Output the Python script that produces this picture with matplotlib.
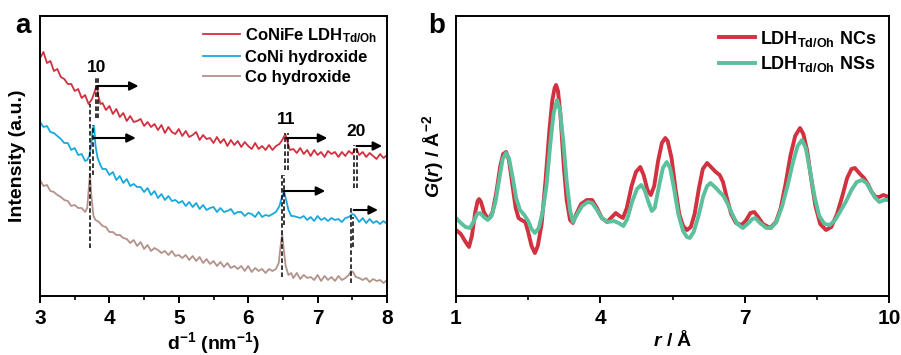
import matplotlib
matplotlib.use("Agg")
import matplotlib.pyplot as plt
from matplotlib.ticker import MultipleLocator, FixedLocator, NullLocator

plt.rcParams["font.family"] = ["Liberation Sans", "DejaVu Sans"]
plt.rcParams["font.weight"] = "bold"
plt.rcParams["mathtext.fontset"] = "custom"
plt.rcParams["mathtext.rm"] = "Liberation Sans:bold"
plt.rcParams["mathtext.bf"] = "Liberation Sans:bold"
plt.rcParams["mathtext.it"] = "Liberation Sans:bold:italic"

# ---------------- panel a: electron diffraction profiles ----------------
red_d = [3.00, 3.05, 3.10, 3.15, 3.20, 3.25, 3.30, 3.35, 3.40, 3.45, 3.50, 3.55, 3.60, 3.65, 3.70,
         3.75, 3.78, 3.80, 3.82, 3.84, 3.87, 3.90, 3.95, 4.00, 4.05, 4.10, 4.15, 4.20, 4.25, 4.30,
         4.35, 4.40, 4.45, 4.50, 4.55, 4.60, 4.65, 4.70, 4.75, 4.80, 4.85, 4.90, 4.95, 5.00, 5.05,
         5.10, 5.15, 5.20, 5.25, 5.30, 5.35, 5.40, 5.45, 5.50, 5.55, 5.60, 5.65, 5.70, 5.75, 5.80,
         5.85, 5.90, 5.95, 6.00, 6.05, 6.10, 6.15, 6.20, 6.25, 6.30, 6.35, 6.40, 6.45, 6.49, 6.52,
         6.54, 6.57, 6.60, 6.65, 6.70, 6.75, 6.80, 6.85, 6.90, 6.95, 7.00, 7.05, 7.10, 7.15, 7.20,
         7.25, 7.30, 7.35, 7.40, 7.45, 7.50, 7.53, 7.56, 7.60, 7.65, 7.70, 7.75, 7.80, 7.85, 7.90,
         7.95, 8.00]
red_i = [238, 244, 233, 235, 225, 227, 219, 217, 212, 212, 205, 207, 198, 201, 192,
         197, 203, 207, 210, 200, 192, 193, 186, 190, 182, 187, 179, 183, 175, 180,
         174, 175, 177, 170, 174, 169, 172, 166, 171, 163, 169, 164, 162, 167, 160,
         165, 159, 161, 164, 156, 161, 157, 158, 153, 159, 153, 157, 150, 156, 151,
         155, 149, 154, 150, 147, 153, 147, 150, 146, 151, 146, 150, 152, 156, 160,
         161, 153, 146, 147, 143, 148, 142, 146, 140, 146, 141, 144, 139, 145, 142,
         144, 139, 144, 140, 145, 142, 146, 147, 141, 144, 139, 143, 140, 137, 142,
         138, 141]

blue_d = [3.00, 3.05, 3.10, 3.15, 3.20, 3.25, 3.30, 3.35, 3.40, 3.45, 3.50, 3.55, 3.60, 3.65, 3.68,
          3.71, 3.74, 3.76, 3.78, 3.80, 3.83, 3.87, 3.90, 3.95, 4.00, 4.05, 4.10, 4.15, 4.20, 4.25,
          4.30, 4.35, 4.40, 4.45, 4.50, 4.55, 4.60, 4.65, 4.70, 4.75, 4.80, 4.85, 4.90, 4.95, 5.00,
          5.05, 5.10, 5.15, 5.20, 5.25, 5.30, 5.35, 5.40, 5.45, 5.50, 5.55, 5.60, 5.65, 5.70, 5.75,
          5.80, 5.85, 5.90, 5.95, 6.00, 6.05, 6.10, 6.15, 6.20, 6.25, 6.30, 6.35, 6.40, 6.45, 6.49,
          6.52, 6.55, 6.58, 6.62, 6.65, 6.70, 6.75, 6.80, 6.85, 6.90, 6.95, 7.00, 7.05, 7.10, 7.15,
          7.20, 7.25, 7.30, 7.35, 7.40, 7.45, 7.50, 7.53, 7.57, 7.60, 7.65, 7.70, 7.75, 7.80, 7.85,
          7.90, 7.95, 8.00]
blue_i = [174, 169, 170, 164, 163, 160, 157, 153, 153, 146, 148, 141, 142, 135, 136,
          140, 152, 168, 170, 150, 138, 131, 127, 127, 121, 124, 116, 120, 113, 117,
          110, 112, 109, 109, 104, 108, 101, 105, 98, 102, 96, 100, 95, 96, 93,
          95, 90, 94, 89, 93, 87, 91, 86, 88, 89, 84, 88, 84, 85, 87,
          82, 84, 84, 80, 83, 82, 79, 84, 79, 81, 80, 82, 84, 90, 100,
          104, 95, 86, 80, 80, 79, 78, 80, 76, 79, 75, 80, 76, 78, 75,
          78, 76, 77, 74, 78, 79, 82, 81, 77, 74, 78, 73, 77, 73, 75,
          72, 75, 72]

brown_d = [3.00, 3.05, 3.10, 3.15, 3.20, 3.25, 3.30, 3.35, 3.40, 3.45, 3.50, 3.55, 3.60, 3.65, 3.68,
           3.70, 3.72, 3.74, 3.77, 3.80, 3.85, 3.90, 3.95, 4.00, 4.05, 4.10, 4.15, 4.20, 4.25, 4.30,
           4.35, 4.40, 4.45, 4.50, 4.55, 4.60, 4.65, 4.70, 4.75, 4.80, 4.85, 4.90, 4.95, 5.00, 5.05,
           5.10, 5.15, 5.20, 5.25, 5.30, 5.35, 5.40, 5.45, 5.50, 5.55, 5.60, 5.65, 5.70, 5.75, 5.80,
           5.85, 5.90, 5.95, 6.00, 6.05, 6.10, 6.15, 6.20, 6.25, 6.30, 6.35, 6.40, 6.44, 6.47, 6.49,
           6.51, 6.54, 6.58, 6.62, 6.65, 6.70, 6.75, 6.80, 6.85, 6.90, 6.95, 7.00, 7.05, 7.10, 7.15,
           7.20, 7.25, 7.30, 7.35, 7.40, 7.45, 7.48, 7.51, 7.55, 7.60, 7.65, 7.70, 7.75, 7.80, 7.85,
           7.90, 7.95, 8.00]
brown_i = [116, 110, 111, 105, 104, 101, 99, 96, 95, 90, 91, 88, 88, 84, 88,
           105, 122, 100, 80, 76, 74, 70, 69, 64, 64, 61, 61, 58, 57, 53,
           56, 50, 54, 47, 51, 45, 48, 46, 43, 45, 41, 45, 40, 41, 38,
           41, 36, 40, 35, 39, 33, 37, 32, 35, 30, 34, 29, 33, 28, 30,
           27, 30, 25, 30, 24, 28, 25, 27, 23, 27, 25, 27, 33, 52, 62,
           48, 30, 21, 23, 18, 23, 17, 21, 18, 19, 16, 21, 15, 20, 16,
           19, 15, 20, 16, 18, 21, 25, 24, 19, 18, 16, 18, 14, 17, 15,
           16, 13, 16]

labels_a = ["CoNiFe LDH$_{\\mathbf{Td/Oh}}$", "CoNi hydroxide", "Co hydroxide"]
colors_a = ["#d1303f", "#17a9dc", "#b3928a"]

# dashed guide lines: (d position, bottom, top)
guide_d = [3.72, 3.77, 3.80, 3.84, 6.48, 6.51, 6.53, 6.57, 7.48, 7.51, 7.53, 7.57]
guide_lo = [48, 121, 178, 178, 19, 71, 126, 126, 13, 49, 108, 108]
guide_hi = [192, 171, 220, 220, 121, 121, 163, 163, 89, 79, 151, 151]

# shift arrows: (start, end, level)
arrow_start = [3.83, 3.78, 6.55, 6.51, 7.56, 7.52]
arrow_end = [4.42, 4.38, 7.14, 7.11, 7.93, 7.87]
arrow_y = [210, 158, 158, 105, 150, 86]

peak_names = ["10", "11", "20"]
peak_label_d = [3.82, 6.55, 7.55]
peak_label_y = [229, 176, 164]

# ---------------- panel b: PDF ----------------
nc_r = [1.00, 1.10, 1.20, 1.27, 1.33, 1.40, 1.45, 1.48, 1.52, 1.58,
        1.64, 1.70, 1.76, 1.84, 1.92, 1.98, 2.04, 2.10, 2.17, 2.24,
        2.30, 2.36, 2.44, 2.50, 2.57, 2.64, 2.70, 2.78, 2.86, 2.94,
        3.00, 3.05, 3.08, 3.12, 3.17, 3.24, 3.30, 3.37, 3.43, 3.50,
        3.60, 3.72, 3.83, 3.93, 4.03, 4.14, 4.24, 4.32, 4.40, 4.47,
        4.55, 4.65, 4.74, 4.83, 4.90, 4.98, 5.05, 5.12, 5.20, 5.28,
        5.35, 5.40, 5.48, 5.56, 5.64, 5.72, 5.80, 5.88, 5.96, 6.05,
        6.13, 6.22, 6.30, 6.40, 6.48, 6.55, 6.62, 6.72, 6.82, 6.93,
        7.02, 7.12, 7.20, 7.28, 7.38, 7.53, 7.65, 7.75, 7.85, 7.95,
        8.05, 8.15, 8.22, 8.30, 8.38, 8.47, 8.57, 8.69, 8.80, 8.92,
        9.03, 9.13, 9.22, 9.29, 9.38, 9.48, 9.56, 9.64, 9.72, 9.80,
        9.88, 10.00]
nc_g = [66, 62, 54, 49, 60, 84, 95, 97, 94, 84,
        79, 78, 84, 104, 130, 142, 144, 136, 112, 88,
        78, 76, 74, 64, 50, 43, 50, 72, 115, 165,
        195, 208, 211, 205, 182, 130, 96, 76, 73, 82,
        92, 96, 96, 88, 78, 74, 79, 83, 80, 78,
        88, 110, 124, 129, 121, 106, 101, 110, 135, 153,
        158, 155, 138, 108, 82, 70, 66, 69, 82, 108,
        127, 133, 129, 124, 121, 114, 100, 82, 73, 71,
        75, 83, 84, 79, 72, 68, 74, 88, 112, 140,
        160, 168, 162, 145, 118, 90, 72, 66, 69, 82,
        100, 118, 127, 128, 123, 118, 112, 104, 99, 99,
        101, 99]

ns_r = [1.00, 1.10, 1.20, 1.29, 1.36, 1.44, 1.50, 1.58, 1.66, 1.74,
        1.82, 1.90, 1.97, 2.04, 2.10, 2.18, 2.25, 2.33, 2.42, 2.50,
        2.57, 2.64, 2.72, 2.80, 2.88, 2.96, 3.03, 3.10, 3.16, 3.23,
        3.30, 3.37, 3.43, 3.52, 3.62, 3.74, 3.83, 3.93, 4.03, 4.15,
        4.28, 4.38, 4.48, 4.56, 4.66, 4.76, 4.85, 4.92, 5.00, 5.07,
        5.13, 5.22, 5.30, 5.38, 5.45, 5.53, 5.62, 5.72, 5.80, 5.86,
        5.94, 6.04, 6.14, 6.22, 6.29, 6.38, 6.48, 6.56, 6.65, 6.75,
        6.85, 6.96, 7.06, 7.16, 7.22, 7.32, 7.45, 7.55, 7.66, 7.78,
        7.90, 8.00, 8.10, 8.19, 8.27, 8.36, 8.45, 8.55, 8.66, 8.77,
        8.88, 8.98, 9.10, 9.22, 9.33, 9.44, 9.53, 9.62, 9.70, 9.80,
        9.90, 10.00]
ns_g = [78, 73, 69, 68, 74, 82, 83, 79, 76, 80,
        94, 117, 137, 143, 138, 118, 98, 86, 81, 75,
        67, 63, 68, 84, 110, 152, 183, 196, 186, 155,
        115, 86, 74, 82, 90, 94, 93, 86, 78, 74,
        75, 73, 70, 77, 94, 107, 111, 106, 94, 85,
        88, 110, 128, 134, 128, 108, 82, 65, 59, 58,
        64, 80, 100, 110, 113, 109, 104, 100, 92, 81,
        72, 68, 72, 77, 78, 73, 68, 68, 74, 90,
        112, 133, 150, 156, 148, 125, 100, 80, 72, 71,
        76, 84, 94, 106, 114, 116, 113, 106, 99, 94,
        96, 96]

labels_b = ["LDH$_{\\mathbf{Td/Oh}}$ NCs", "LDH$_{\\mathbf{Td/Oh}}$ NSs"]
colors_b = ["#d2323f", "#5cc09c"]
ticks_b = [1, 4, 7, 10]
minor_ticks_b = [2.5, 5.5, 8.5]


def style_axes(ax):
    for sp in ax.spines.values():
        sp.set_linewidth(1.4)
    ax.tick_params(axis="x", which="major", direction="out", length=5, width=1.4,
                   labelsize=15, pad=4)
    ax.tick_params(axis="x", which="minor", direction="out", length=3, width=1.2)
    ax.yaxis.set_major_locator(NullLocator())


fig = plt.figure(figsize=(9.01, 3.55), dpi=100)
ax_a = fig.add_axes([40 / 901, 59 / 355, 347 / 901, 280 / 355])
ax_b = fig.add_axes([456 / 901, 59 / 355, 433 / 901, 280 / 355])

# panel a
for d, inten, lab, col in zip([red_d, blue_d, brown_d], [red_i, blue_i, brown_i], labels_a, colors_a):
    ax_a.plot(d, inten, color=col, lw=1.3, label=lab)
ax_a.vlines(guide_d, guide_lo, guide_hi, colors="k", linestyles=(0, (3, 1.6)), lw=1.1)
for x0, x1, y in zip(arrow_start, arrow_end, arrow_y):
    ax_a.annotate("", xy=(x1, y), xytext=(x0, y),
                  arrowprops=dict(arrowstyle="-|>", color="k", lw=1.5, mutation_scale=13,
                                  shrinkA=0, shrinkB=0))
for name, x, y in zip(peak_names, peak_label_d, peak_label_y):
    ax_a.text(x, y, name, ha="center", va="center", fontsize=12.5, fontweight="bold")
ax_a.set_xlim(3, 8)
ax_a.set_ylim(0, 280)
ax_a.xaxis.set_major_locator(MultipleLocator(1))
ax_a.xaxis.set_minor_locator(MultipleLocator(0.5))
style_axes(ax_a)
ax_a.set_xlabel("d$^{\\mathbf{-1}}$ (nm$^{\\mathbf{-1}}$)", fontsize=14, fontweight="bold", labelpad=2)
ax_a.set_ylabel("Intensity (a.u.)", fontsize=14, fontweight="bold", labelpad=10)
ax_a.legend(loc="upper right", frameon=False, prop={"weight": "bold", "size": 12},
            handlelength=2.2, handletextpad=0.3, labelspacing=0.3, borderaxespad=0.2)
ax_a.text(-0.049, 0.964, "a", transform=ax_a.transAxes, fontsize=20, fontweight="bold",
          ha="center", va="center")

# panel b
for r, g, lab, col in zip([nc_r, ns_r], [nc_g, ns_g], labels_b, colors_b):
    ax_b.plot(r, g, color=col, lw=2.8, label=lab, solid_joinstyle="round")
ax_b.set_xlim(1, 10)
ax_b.set_ylim(0, 280)
ax_b.xaxis.set_major_locator(FixedLocator(ticks_b))
ax_b.xaxis.set_minor_locator(FixedLocator(minor_ticks_b))
style_axes(ax_b)
ax_b.set_xlabel("$\\mathit{r}$ / Å", fontsize=14, fontweight="bold", labelpad=2)
ax_b.set_ylabel("$\\mathit{G}$($\\mathit{r}$) / Å$^{\\mathbf{-2}}$", fontsize=14,
                fontweight="bold", labelpad=7)
ax_b.legend(loc="upper right", frameon=False, prop={"weight": "bold", "size": 13},
            handlelength=2.0, handletextpad=0.3, labelspacing=0.3, borderaxespad=0.3)
ax_b.text(-0.044, 0.964, "b", transform=ax_b.transAxes, fontsize=20, fontweight="bold",
          ha="center", va="center")

fig.savefig("out.png", dpi=100)
